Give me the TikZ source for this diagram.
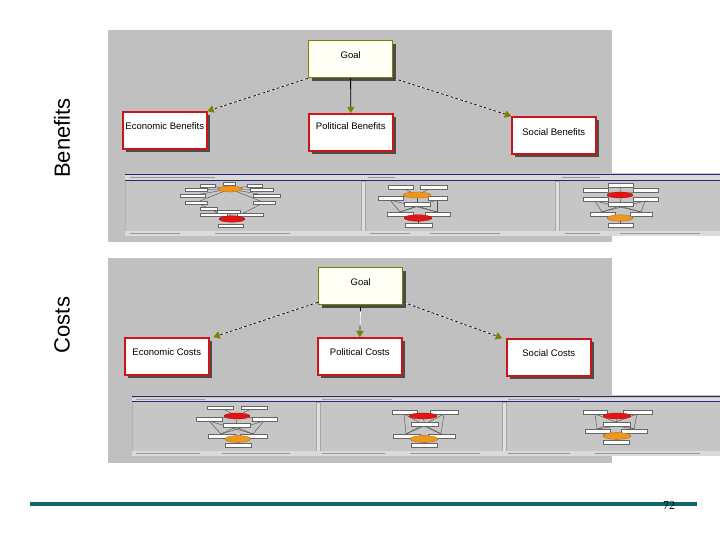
\documentclass[tikz,border=0pt]{standalone}
\usepackage{fontspec}
\setmainfont{Liberation Sans}
\newfontfamily\numfont{Liberation Serif}
\usetikzlibrary{arrows.meta,shadows}
\definecolor{panelgray}{RGB}{192,192,192}
\definecolor{stripgray}{RGB}{198,198,198}
\definecolor{headgray}{RGB}{218,218,218}
\definecolor{navyline}{RGB}{40,40,120}
\definecolor{tealline}{RGB}{16,102,102}
\definecolor{critred}{RGB}{205,20,25}
\definecolor{goalolive}{RGB}{128,128,0}
\definecolor{goalfill}{RGB}{255,255,246}
\definecolor{mininorange}{RGB}{240,150,30}
\definecolor{minired}{RGB}{228,20,20}
\tikzset{
  panelbg/.style={fill=panelgray},
  boxtext/.style={font=\fontsize{9.5}{11}\selectfont},
  goalbox/.style={draw=goalolive, line width=1.3pt, fill=goalfill,
    minimum width=84pt, minimum height=37pt, anchor=north west, inner sep=0pt,
    drop shadow={shadow xshift=3pt, shadow yshift=-3pt, fill=black!70, opacity=1}},
  critbox/.style={draw=critred, line width=1.6pt, fill=white,
    minimum width=84pt, minimum height=37pt, anchor=north west, inner sep=0pt,
    drop shadow={shadow xshift=3pt, shadow yshift=-3pt, fill=black!70, opacity=1}},
  dashconn/.style={draw=black, line width=0.7pt, dash pattern=on 3pt off 2pt,
    preaction={draw=white, line width=0.7pt, solid},
    -{Triangle[length=6pt, width=7pt, fill=goalolive, color=goalolive]}},
  solidconn/.style={draw=black, line width=0.9pt,
    -{Triangle[length=6pt, width=7pt, fill=goalolive, color=goalolive]}},
  sidelabel/.style={font=\fontsize{22}{24}\selectfont, rotate=90},
  minibox/.style={fill=white, draw=black!60, line width=0.35pt},
  miniline/.style={draw=black!70, line width=0.4pt},
  orangeell/.style={fill=mininorange, draw=mininorange!70!black, line width=0.3pt},
  redell/.style={fill=minired, draw=minired!70!black, line width=0.3pt},
  navy/.style={draw=navyline, line width=1.3pt},
  speck/.style={draw=black!40, line width=1pt},
  divider/.style={fill=white!88!black, draw=black!35, line width=0.3pt}
}
\begin{document}
\begin{tikzpicture}[x=1pt,y=-1pt]
\useasboundingbox (0,0) rectangle (720,540);
\fill[white] (0,0) rectangle (720,540);

% ---------- side labels
\node[sidelabel] (lblben) at (62,138) {Benefits};
\node[sidelabel] (lblcost) at (62,325) {Costs};

% ---------- top panel
\fill[panelbg] (108,30) rectangle (612,242);
\node[goalbox] (g1) at (308,40) {};
\node[critbox] (e1) at (122,111) {};
\node[critbox] (p1) at (308,113) {};
\node[critbox] (s1) at (511,116) {};
\node[boxtext] (g1t) at ([yshift=-15pt]g1.north) {Goal};
\node[boxtext] (e1t) at ([yshift=-15pt]e1.north) {Economic Benefits};
\node[boxtext] (p1t) at ([yshift=-13pt]p1.north) {Political Benefits};
\node[boxtext] (s1t) at ([yshift=-16pt]s1.north) {Social Benefits};
\draw[dashconn] (g1.south west) -- (e1.north east);
\draw[solidconn] (g1.south) -- (p1.north);
\draw[dashconn] (g1.south east) -- (s1.north west);

% top strip of screenshots
\fill[stripgray] (125,173) rectangle (720,236);
\draw[black!30, line width=0.4pt] (125.5,173) -- (125.5,236);
\draw[navy] (125,174.5) -- (720,174.5);
\fill[headgray] (125,175.5) rectangle (720,179.7);
\draw[navy] (125,180.5) -- (720,180.5);
\draw[speck] (130,177.6) -- (215,177.6);
\draw[speck] (368,177.6) -- (395,177.6);
\draw[speck] (562,177.6) -- (600,177.6);
\fill[divider] (361,181) rectangle (365,231);
\fill[divider] (555,181) rectangle (559,231);
\fill[headgray] (125,231) rectangle (720,236);
\draw[speck, line width=0.8pt] (130,233.5) -- (180,233.5);
\draw[speck, line width=0.8pt] (215,233.5) -- (290,233.5);
\draw[speck, line width=0.8pt] (370,233.5) -- (410,233.5);
\draw[speck, line width=0.8pt] (430,233.5) -- (500,233.5);
\draw[speck, line width=0.8pt] (565,233.5) -- (600,233.5);
\draw[speck, line width=0.8pt] (620,233.5) -- (700,233.5);

% panel 1 (top)
\foreach \a/\b/\c/\d in {200/184/215/187,223/182/235/185,247/184/262/187,185/188/207/191,250/188/273/191,180/194/205/197,253/194/280/197,185/201/207/204,253/201/275/204}
  \draw[miniline] (230,189) -- ({(\a+\c)/2},{(\b+\d)/2});
\foreach \a/\b/\c/\d in {200/207/217/210,217/210/240/213,237/213/263/216,200/213/227/216,185/201/207/204,253/201/275/204}
  \draw[miniline] (232,219) -- ({(\a+\c)/2},{(\b+\d)/2});
\foreach \a/\b/\c/\d in {200/184/215/187,223/182/235/185,247/184/262/187,185/188/207/191,250/188/273/191,180/194/205/197,253/194/280/197,185/201/207/204,253/201/275/204,200/207/217/210,217/210/240/213,237/213/263/216,200/213/227/216,218/224/243/227}
  \draw[minibox] (\a,\b) rectangle (\c,\d);
\fill[orangeell] (230,189) ellipse [x radius=12, y radius=3];
\fill[redell] (232,219) ellipse [x radius=13, y radius=3.2];

% panel 2 (top)
\foreach \a/\b/\c/\d in {388/185/413/189,420/185/447/189,378/196/403/200,428/196/447/200,404/202/430/206}
  \draw[miniline] (417,195) -- ({(\a+\c)/2},{(\b+\d)/2});
\foreach \p in {(390,200),(437,200),(417,206)}
  \foreach \q in {(400,212),(437,212)}
    \draw[miniline] \p -- \q;
\foreach \q in {(400,216),(437,216),(418,223)}
  \draw[miniline] (418,218) -- \q;
\foreach \a/\b/\c/\d in {388/185/413/189,420/185/447/189,378/196/403/200,428/196/447/200,404/202/430/206,387/212/413/216,425/212/450/216,405/223/432/227}
  \draw[minibox] (\a,\b) rectangle (\c,\d);
\fill[orangeell] (417,195) ellipse [x radius=14, y radius=3];
\fill[redell] (418,218) ellipse [x radius=14, y radius=3.2];

% panel 3 (top)
\foreach \a/\b/\c/\d in {608/183/633/187,583/188/608/192,633/188/658/192,583/197/608/201,633/197/658/201,608/202/633/206}
  \draw[miniline] (620,195) -- ({(\a+\c)/2},{(\b+\d)/2});
\foreach \p in {(595,201),(645,201),(620,206)}
  \foreach \q in {(602,212),(641,212)}
    \draw[miniline] \p -- \q;
\foreach \q in {(602,216),(641,216),(620,223)}
  \draw[miniline] (620,218) -- \q;
\foreach \a/\b/\c/\d in {608/183/633/187,583/188/608/192,633/188/658/192,583/197/608/201,633/197/658/201,608/202/633/206,590/212/615/216,630/212/652/216,608/223/633/227}
  \draw[minibox] (\a,\b) rectangle (\c,\d);
\fill[redell] (620,195) ellipse [x radius=13, y radius=3];
\fill[orangeell] (620,218) ellipse [x radius=13, y radius=3.2];

% ---------- bottom panel
\fill[panelbg] (108,258) rectangle (612,463);
\node[goalbox] (g2) at (318,267) {};
\node[critbox] (e2) at (124,337) {};
\node[critbox] (p2) at (317,337) {};
\node[critbox] (s2) at (506,338) {};
\node[boxtext] (g2t) at ([yshift=-15pt]g2.north) {Goal};
\node[boxtext] (e2t) at ([yshift=-15pt]e2.north) {Economic Costs};
\node[boxtext] (p2t) at ([yshift=-15pt]p2.north) {Political Costs};
\node[boxtext] (s2t) at ([yshift=-15pt]s2.north) {Social Costs};
\draw[dashconn] ([yshift=3pt]g2.south west) -- ([xshift=4pt]e2.north east);
\draw[dashconn, dash pattern=on 6pt off 14pt] (g2.south) -- (p2.north);
\draw[dashconn] ([yshift=3pt]g2.south east) -- ([xshift=-4pt]s2.north west);

% bottom strip of screenshots
\fill[stripgray] (132,395) rectangle (720,456);
\draw[black!30, line width=0.4pt] (132.5,395) -- (132.5,456);
\draw[navy] (132,396.5) -- (720,396.5);
\fill[headgray] (132,397.5) rectangle (720,400.8);
\draw[navy] (132,401.5) -- (720,401.5);
\draw[speck] (136,399.2) -- (205,399.2);
\draw[speck] (322,399.2) -- (392,399.2);
\draw[speck] (508,399.2) -- (580,399.2);
\fill[divider] (316,402) rectangle (320,451);
\fill[divider] (502,402) rectangle (506,451);
\fill[headgray] (132,451) rectangle (720,456);
\draw[speck, line width=0.8pt] (136,453.5) -- (200,453.5);
\draw[speck, line width=0.8pt] (222,453.5) -- (290,453.5);
\draw[speck, line width=0.8pt] (322,453.5) -- (385,453.5);
\draw[speck, line width=0.8pt] (410,453.5) -- (480,453.5);
\draw[speck, line width=0.8pt] (508,453.5) -- (570,453.5);
\draw[speck, line width=0.8pt] (595,453.5) -- (700,453.5);

% panel 1 (bottom)
\foreach \a/\b/\c/\d in {207/406/233/409,241/406/267/409,196/417/222/421,252/417/277/421,223/423/250/427}
  \draw[miniline] (237,416) -- ({(\a+\c)/2},{(\b+\d)/2});
\foreach \p in {(209,421),(264,421),(236,427)}
  \foreach \q in {(221,434),(253,434)}
    \draw[miniline] \p -- \q;
\foreach \q in {(221,438),(253,438),(238,443)}
  \draw[miniline] (238,439) -- \q;
\foreach \a/\b/\c/\d in {207/406/233/409,241/406/267/409,196/417/222/421,252/417/277/421,223/423/250/427,208/434/235/438,240/434/267/438,225/443/251/447}
  \draw[minibox] (\a,\b) rectangle (\c,\d);
\fill[redell] (237,416) ellipse [x radius=13, y radius=3];
\fill[orangeell] (238,439) ellipse [x radius=13, y radius=3.4];

% panel 2 (bottom)
\foreach \a/\b/\c/\d in {392/410/417/414,430/410/458/414,411/422/438/426}
  \draw[miniline] (423,416) -- ({(\a+\c)/2},{(\b+\d)/2});
\foreach \p in {(404,414),(444,414),(424,426)}
  \foreach \q in {(406,434),(441,434)}
    \draw[miniline] \p -- \q;
\foreach \q in {(406,438),(441,438),(424,443)}
  \draw[miniline] (424,439) -- \q;
\foreach \a/\b/\c/\d in {392/410/417/414,430/410/458/414,411/422/438/426,393/434/420/438,428/434/455/438,411/443/437/447}
  \draw[minibox] (\a,\b) rectangle (\c,\d);
\fill[redell] (423,416) ellipse [x radius=14, y radius=3];
\fill[orangeell] (424,439) ellipse [x radius=14, y radius=3.4];

% panel 3 (bottom)
\foreach \a/\b/\c/\d in {583/410/607/414,623/410/652/414,603/422/630/426}
  \draw[miniline] (617,416) -- ({(\a+\c)/2},{(\b+\d)/2});
\foreach \p in {(595,414),(637,414),(617,426)}
  \foreach \q in {(597,429),(634,429)}
    \draw[miniline] \p -- \q;
\foreach \q in {(597,433),(634,433),(616,440)}
  \draw[miniline] (617,436) -- \q;
\foreach \a/\b/\c/\d in {583/410/607/414,623/410/652/414,603/422/630/426,585/429/610/433,621/429/647/433,603/440/629/444}
  \draw[minibox] (\a,\b) rectangle (\c,\d);
\fill[redell] (617,416) ellipse [x radius=14, y radius=3];
\fill[orangeell] (617,436) ellipse [x radius=14, y radius=3.4];

% ---------- footer
\draw[tealline, line width=4pt] (30,503.5) coordinate (footl) -- (697,503.5) coordinate (footr);
\node[font=\numfont\fontsize{12}{13}\selectfont, inner sep=0pt] (pagenum) at (669,506) {72};
\end{tikzpicture}
\end{document}
